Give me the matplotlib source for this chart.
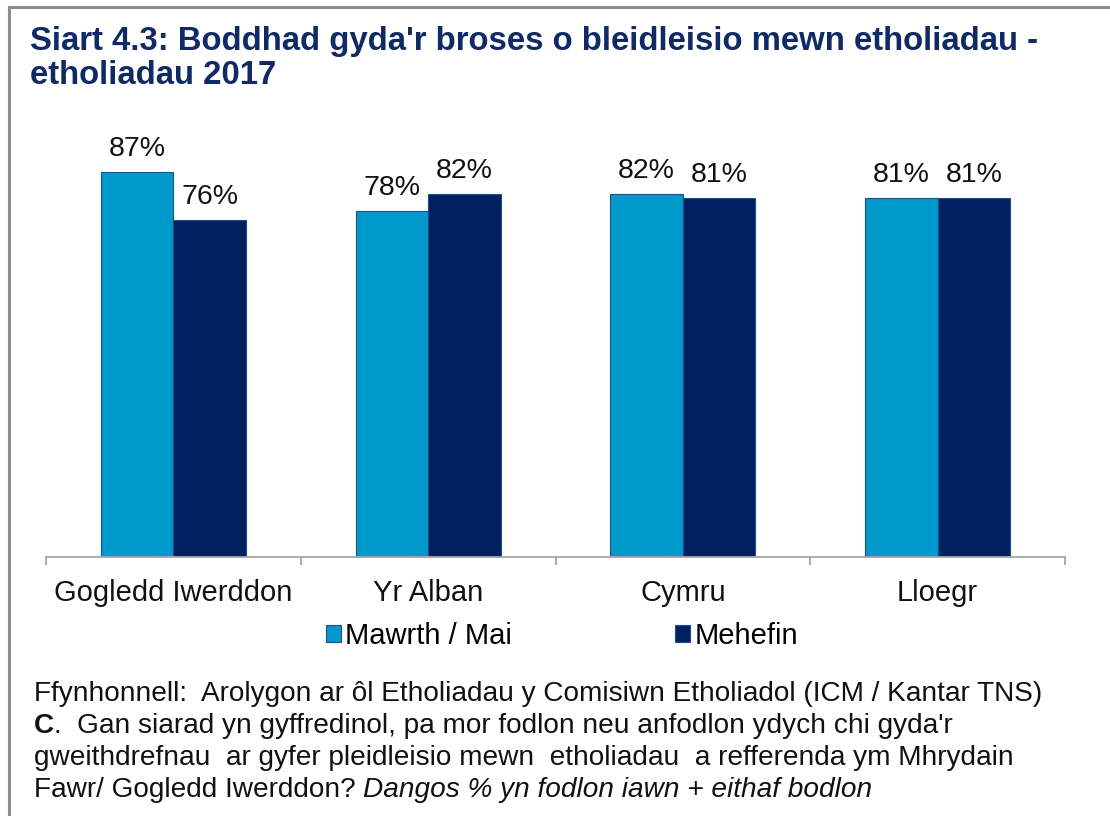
import numpy as np
import matplotlib.pyplot as plt
from matplotlib.lines import Line2D

plt.rcParams['font.family'] = ['Liberation Sans', 'DejaVu Sans']

# Data
categories = ['Gogledd Iwerddon', 'Yr Alban', 'Cymru', 'Lloegr']
series_names = ['Mawrth / Mai', 'Mehefin']
mawrth_mai = [87, 78, 82, 81]
mehefin = [76, 82, 81, 81]

light = '#0099CC'
dark = '#002060'
navy_text = '#0F2A64'

W, H = 1110, 816
fig = plt.figure(figsize=(W / 100, H / 100), dpi=100)

def fx(px):
    return px / W

def fy(py):
    return 1 - py / H

ax = fig.add_axes([fx(46), fy(557), fx(1065) - fx(46), fy(114) - fy(557)])

x = np.arange(len(categories))
w = 0.285
b1 = ax.bar(x - w / 2, mawrth_mai, w, color=light, edgecolor='#1F4E8C', linewidth=0.8,
            label=series_names[0])
b2 = ax.bar(x + w / 2, mehefin, w, color=dark, edgecolor='#1F4E8C', linewidth=0.8,
            label=series_names[1])

for bars, vals in ((b1, mawrth_mai), (b2, mehefin)):
    for r, v in zip(bars, vals):
        ax.annotate(f'{v}%', (r.get_x() + r.get_width() / 2, r.get_height()),
                    xytext=(0, 11.5), textcoords='offset points',
                    ha='center', va='baseline', fontsize=20.5, color='#111111')

ax.set_xlim(-0.5, len(categories) - 0.5)
ax.set_ylim(0, 100)
ax.set_yticks([])
for s in ('top', 'right', 'left'):
    ax.spines[s].set_visible(False)
ax.spines['bottom'].set_color('#A6A6A6')
ax.spines['bottom'].set_linewidth(1.3)
ax.set_xticks(x)
ax.set_xticklabels(categories, fontsize=21, color='#111111')
ax.set_xticks(np.arange(-0.5, len(categories)), minor=True)
ax.tick_params(axis='x', which='major', length=0, pad=16)
ax.tick_params(axis='x', which='minor', length=6, color='#A6A6A6', width=1.3)

# Legend
leg = fig.legend(handles=[b1, b2], labels=series_names, loc='center',
                 bbox_to_anchor=(fx(562), fy(636)), ncol=2, frameon=False,
                 fontsize=21, handlelength=0.5, handleheight=0.5,
                 handletextpad=0.15, columnspacing=5.6)

# Title
fig.text(fx(30), fy(50), "Siart 4.3: Boddhad gyda'r broses o bleidleisio mewn etholiadau -",
         fontsize=23.7, fontweight='bold', color=navy_text, va='baseline')
fig.text(fx(30), fy(84), 'etholiadau 2017',
         fontsize=23.7, fontweight='bold', color=navy_text, va='baseline')

# Footer
fs = 20.2
fig.text(fx(34), fy(701),
         'Ffynhonnell:  Arolygon ar ôl Etholiadau y Comisiwn Etholiadol (ICM / Kantar TNS)',
         fontsize=fs, va='baseline', color='#111111')

renderer = fig.canvas.get_renderer()

def pieces(x0, ybase, parts):
    xp = x0
    for txt, kw in parts:
        t = fig.text(fx(xp), fy(ybase), txt, fontsize=fs, va='baseline', color='#111111', **kw)
        bb = t.get_window_extent(renderer)
        xp += bb.width

pieces(34, 733, [('C', {'fontweight': 'bold'}),
                 ('.  Gan siarad yn gyffredinol, pa mor fodlon neu anfodlon ydych chi gyda\'r', {})])
fig.text(fx(34), fy(765),
         'gweithdrefnau  ar gyfer pleidleisio mewn  etholiadau  a refferenda ym Mhrydain',
         fontsize=fs, va='baseline', color='#111111')
pieces(34, 797, [('Fawr/ Gogledd Iwerddon? ', {}),
                 ('Dangos % yn fodlon iawn + eithaf bodlon', {'fontstyle': 'italic'})])

# Frame (top and left edges)
fig.add_artist(Line2D([fx(9), 1], [fy(7), fy(7)], color='#8C8C8C', lw=2.2))
fig.add_artist(Line2D([fx(9), fx(9)], [fy(7), 0], color='#8C8C8C', lw=2.2))

fig.savefig('out.png', dpi=100)
